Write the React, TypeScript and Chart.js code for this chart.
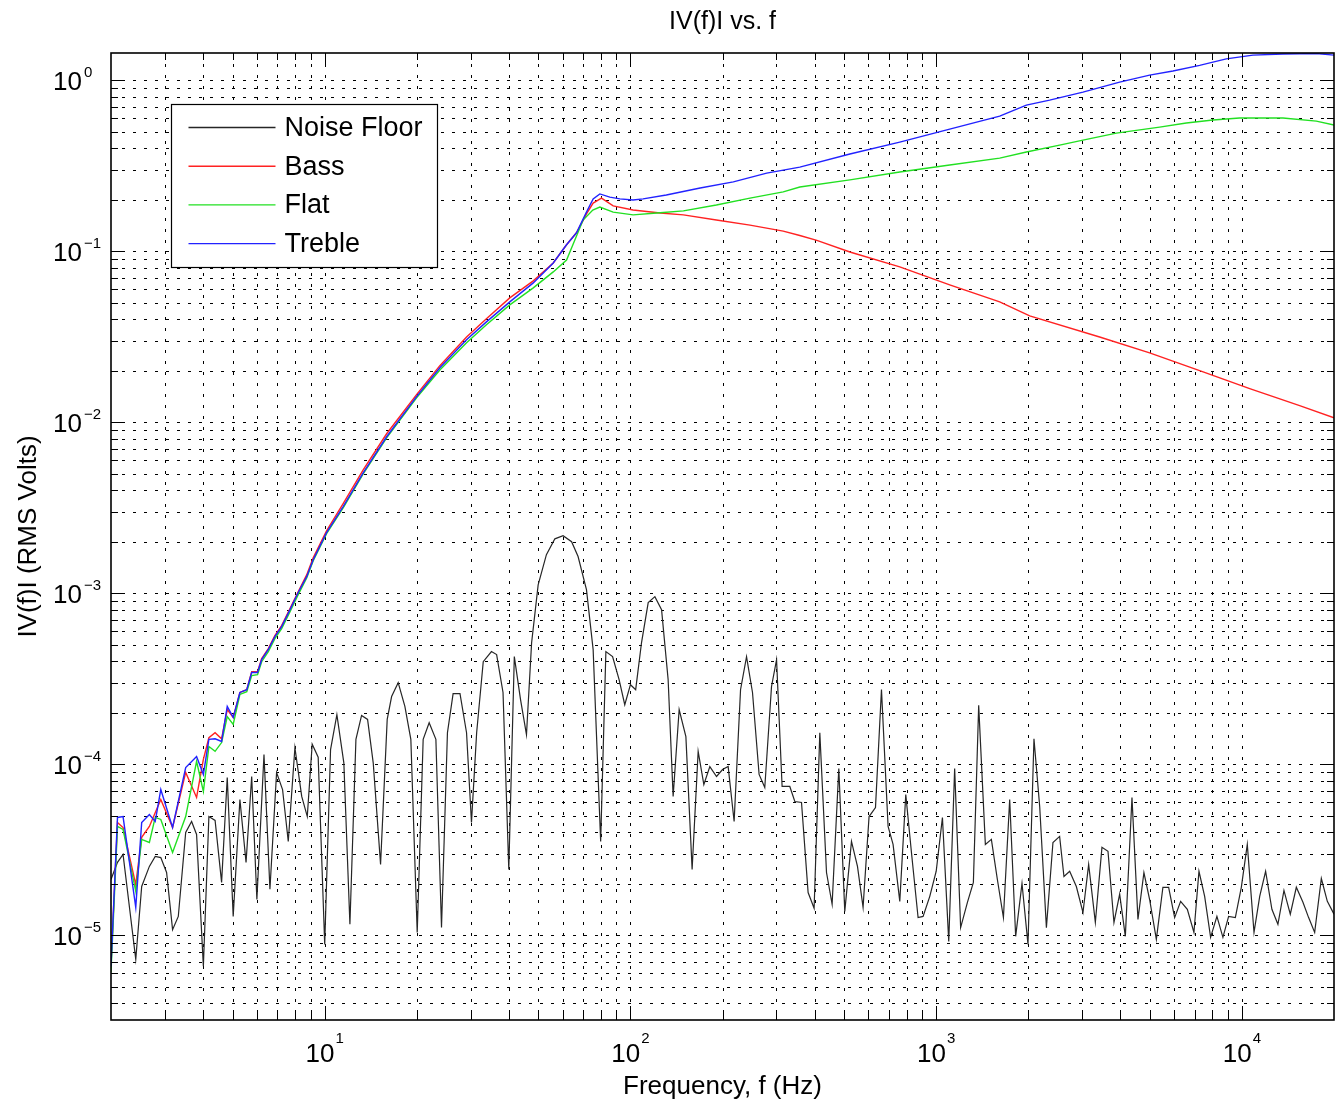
import React, { useEffect, useRef } from 'react';
import { Chart, registerables } from 'chart.js';

Chart.register(...registerables);

// ---- Measured spectra: [frequency (Hz), |V(f)| (RMS volts)] ----
const noiseFloorPoints: [number, number][] = [
  [2.0, 2.12e-5], [2.1, 2.67e-5], [2.19, 2.97e-5], [2.41, 7.24e-6], [2.52, 1.93e-5], [2.67, 2.53e-5], [2.79, 2.89e-5], [2.91, 2.85e-5], [3.04, 2.33e-5], [3.18, 1.08e-5],
  [3.32, 1.29e-5], [3.51, 4.0e-5], [3.67, 4.63e-5], [3.81, 3.89e-5], [4.01, 6.59e-6], [4.18, 4.95e-5], [4.38, 4.7e-5], [4.6, 2.04e-5], [4.8, 8.37e-5], [5.02, 1.29e-5],
  [5.28, 6.23e-5], [5.53, 2.67e-5], [5.77, 8.49e-5], [6.0, 1.62e-5], [6.33, 1.14e-4], [6.62, 1.86e-5], [6.96, 8.96e-5], [7.28, 7.12e-5], [7.6, 3.54e-5], [7.99, 1.25e-4],
  [8.41, 6.49e-5], [8.77, 4.95e-5], [9.1, 1.31e-4], [9.52, 1.1e-4], [10.0, 8.85e-6], [10.45, 1.22e-4], [10.96, 1.95e-4], [11.55, 1.02e-4], [12.09, 1.16e-5], [12.65, 1.4e-4],
  [13.2, 1.93e-4], [13.81, 1.83e-4], [14.41, 1.02e-4], [15.23, 2.6e-5], [16.01, 1.83e-4], [16.55, 2.49e-4], [17.39, 3.0e-4], [18.29, 2.18e-4], [19.13, 1.4e-4], [20.07, 1.04e-5],
  [20.99, 1.4e-4], [21.96, 1.75e-4], [23.1, 1.4e-4], [24.1, 1.11e-5], [25.2, 1.53e-4], [26.3, 2.59e-4], [27.7, 2.59e-4], [29.1, 1.53e-4], [30.2, 4.57e-5], [31.4, 1.53e-4],
  [33.0, 3.98e-4], [35.1, 4.56e-4], [36.5, 4.38e-4], [38.3, 2.63e-4], [40.0, 2.43e-5], [41.7, 4.26e-4], [43.7, 2.39e-4], [45.7, 1.49e-4], [47.5, 5.14e-4], [49.9, 1.12e-3],
  [53.1, 1.68e-3], [56.6, 2.08e-3], [60.2, 2.17e-3], [64.2, 2.0e-3], [67.4, 1.64e-3], [71.8, 1.05e-3], [75.5, 4.68e-4], [79.9, 3.54e-5], [83.1, 4.56e-4], [87.4, 4.26e-4],
  [91.8, 3.13e-4], [95.8, 2.23e-4], [100, 2.92e-4], [104, 2.73e-4], [108.7, 5.15e-4], [114.3, 8.81e-4], [120.2, 9.55e-4], [126.4, 8.02e-4], [132.8, 3.13e-4], [137.9, 6.49e-5],
  [144.3, 2.09e-4], [151.8, 1.45e-4], [159.1, 2.43e-5], [166.5, 1.19e-4], [173.8, 7.62e-5], [181.8, 9.7e-5], [191.2, 8.49e-5], [200.1, 9.32e-5], [208.7, 9.7e-5], [218.3, 4.63e-5],
  [229.1, 2.73e-4], [239.7, 4.26e-4], [250.7, 2.63e-4], [263.5, 8.72e-5], [275.0, 7.32e-5], [289.3, 2.85e-4], [300.5, 4.09e-4], [313.3, 7.42e-5], [332, 7.42e-5], [344.8, 6.06e-5],
  [362.6, 5.98e-5], [381.1, 1.78e-5], [398.7, 1.44e-5], [416.2, 1.53e-4], [437.7, 2.33e-5], [456.6, 1.52e-5], [480.2, 9.45e-5], [502.3, 1.38e-5], [528.3, 3.54e-5], [552.7, 2.53e-5],
  [576.5, 1.46e-5], [603.1, 4.95e-5], [633, 5.59e-5], [662.2, 2.74e-4], [696, 4.33e-5], [722.6, 3.4e-5], [760.1, 1.58e-5], [795.2, 6.66e-5], [829.9, 3.05e-5], [872.4, 1.27e-5],
  [905.8, 1.29e-5], [952.7, 1.69e-5], [1000, 2.37e-5], [1048, 4.89e-5], [1099, 9.22e-6], [1149, 9.45e-5], [1202, 1.11e-5], [1265, 1.56e-5], [1323, 2.04e-5], [1377, 2.21e-4],
  [1448, 3.4e-5], [1515, 3.64e-5], [1585, 2.12e-5], [1659, 1.27e-5], [1739, 6.23e-5], [1819, 9.87e-6], [1908, 2.01e-5], [1996, 8.86e-6], [2088, 1.41e-4], [2180, 5.67e-5],
  [2293, 1.11e-5], [2409, 3.49e-5], [2533, 3.79e-5], [2617, 2.21e-5], [2732, 2.37e-5], [2873, 1.93e-5], [3020, 1.36e-5], [3152, 2.6e-5], [3315, 1.19e-5], [3484, 3.27e-5],
  [3646, 3.1e-5], [3814, 1.19e-5], [3981, 1.74e-5], [4155, 9.87e-6], [4368, 6.4e-5], [4569, 1.24e-5], [4779, 2.33e-5], [4989, 1.62e-5], [5248, 9.48e-6], [5514, 1.91e-5],
  [5757, 1.91e-5], [6024, 1.27e-5], [6301, 1.58e-5], [6627, 1.42e-5], [6965, 1.04e-5], [7234, 2.37e-5], [7551, 1.69e-5], [7897, 9.74e-6], [8281, 1.29e-5], [8664, 9.74e-6],
  [9044, 1.29e-5], [9513, 1.27e-5], [9952, 1.91e-5], [10410, 3.4e-5], [10950, 1.04e-5], [11430, 1.69e-5], [11950, 2.37e-5], [12530, 1.42e-5], [13110, 1.16e-5], [13720, 1.83e-5],
  [14390, 1.33e-5], [15060, 1.91e-5], [15830, 1.56e-5], [16520, 1.27e-5], [17290, 1.04e-5], [18180, 2.15e-5], [19020, 1.58e-5], [20000, 1.33e-5],
];

const bassPoints: [number, number][] = [
  [2.0, 6.77e-6], [2.1, 4.57e-5], [2.19, 4.27e-5], [2.41, 1.98e-5], [2.52, 3.74e-5], [2.67, 4.33e-5], [2.91, 6.23e-5], [3.18, 4.27e-5], [3.51, 8.96e-5], [3.81, 6.4e-5],
  [4.01, 1.07e-4], [4.18, 1.43e-4], [4.38, 1.53e-4], [4.6, 1.41e-4], [4.8, 2.09e-4], [5.02, 1.88e-4], [5.28, 2.63e-4], [5.56, 2.73e-4], [5.77, 3.48e-4], [6.03, 3.48e-4],
  [6.22, 4.15e-4], [6.54, 4.75e-4], [6.87, 5.65e-4], [7.23, 6.47e-4], [7.7, 8.13e-4], [8.19, 1.02e-3], [8.73, 1.28e-3], [9.17, 1.61e-3], [10.14, 2.32e-3], [11.49, 3.34e-3],
  [13.36, 5.27e-3], [15.94, 8.56e-3], [19.97, 1.45e-2], [23.8, 2.14e-2], [29.1, 3.15e-2], [33.8, 4.02e-2], [40.3, 5.33e-2], [48.1, 6.7e-2], [55.9, 8.53e-2], [61.8, 0.109],
  [66.6, 0.128], [71.8, 0.165], [75.5, 0.191], [80.4, 0.204], [87.8, 0.184], [102, 0.174], [125, 0.167], [149, 0.163], [191, 0.152], [246, 0.142],
  [316, 0.131], [358, 0.1235], [407, 0.1155], [522, 9.89e-2], [760, 8.09e-2], [1107, 6.35e-2], [1613, 5.05e-2], [2022, 4.18e-2], [3424, 3.15e-2], [4989, 2.54e-2],
  [7270, 2.0e-2], [10600, 1.57e-2], [15440, 1.25e-2], [20000, 1.06e-2],
];

const flatPoints: [number, number][] = [
  [2.0, 6.08e-6], [2.1, 4.33e-5], [2.19, 4.16e-5], [2.41, 1.81e-5], [2.52, 3.64e-5], [2.67, 3.49e-5], [2.79, 4.89e-5], [2.91, 4.76e-5], [3.18, 3.05e-5], [3.51, 4.95e-5],
  [3.81, 1.04e-4], [4.01, 6.94e-5], [4.18, 1.27e-4], [4.38, 1.19e-4], [4.6, 1.34e-4], [4.8, 1.9e-4], [5.02, 1.71e-4], [5.28, 2.56e-4], [5.56, 2.66e-4], [5.77, 3.3e-4],
  [6.03, 3.34e-4], [6.22, 3.98e-4], [6.54, 4.56e-4], [6.87, 5.43e-4], [7.23, 6.21e-4], [7.7, 7.81e-4], [8.19, 9.81e-4], [8.73, 1.23e-3], [9.17, 1.55e-3], [10.14, 2.23e-3],
  [11.49, 3.16e-3], [13.36, 4.99e-3], [15.94, 8.11e-3], [19.97, 1.39e-2], [23.8, 2.02e-2], [29.1, 2.91e-2], [33.8, 3.71e-2], [40.3, 4.85e-2], [48.1, 6.1e-2], [55.9, 7.56e-2],
  [61.8, 8.88e-2], [70.0, 0.152], [75.3, 0.174], [79.4, 0.181], [87.8, 0.169], [102, 0.163], [122, 0.167], [149, 0.172], [191, 0.186], [246, 0.204],
  [316, 0.222], [358, 0.237], [522, 0.261], [760, 0.29], [1107, 0.319], [1613, 0.35], [1972, 0.38], [2533, 0.417], [3020, 0.446], [3884, 0.49],
  [5380, 0.531], [6577, 0.561], [8035, 0.584], [9824, 0.6], [13620, 0.6], [17510, 0.576], [20000, 0.546],
];

const treblePoints: [number, number][] = [
  [2.0, 6.59e-6], [2.1, 4.89e-5], [2.19, 4.95e-5], [2.41, 1.46e-5], [2.52, 4.57e-5], [2.67, 5.09e-5], [2.79, 4.63e-5], [2.91, 7.12e-5], [3.18, 4.27e-5], [3.51, 9.58e-5],
  [3.81, 1.11e-4], [4.01, 8.72e-5], [4.18, 1.4e-4], [4.38, 1.41e-4], [4.6, 1.36e-4], [4.8, 2.18e-4], [5.02, 1.88e-4], [5.28, 2.63e-4], [5.56, 2.73e-4], [5.77, 3.44e-4],
  [6.03, 3.44e-4], [6.22, 4.09e-4], [6.54, 4.69e-4], [6.87, 5.58e-4], [7.23, 6.38e-4], [7.7, 8.02e-4], [8.19, 1.01e-3], [8.73, 1.25e-3], [9.17, 1.57e-3], [10.14, 2.26e-3],
  [11.49, 3.21e-3], [13.36, 5.06e-3], [15.94, 8.22e-3], [19.97, 1.41e-2], [23.8, 2.08e-2], [29.1, 3.03e-2], [33.8, 3.86e-2], [40.3, 5.05e-2], [48.1, 6.52e-2], [55.9, 8.53e-2],
  [61.8, 0.109], [66.6, 0.128], [71.8, 0.169], [75.5, 0.202], [79.4, 0.216], [85.6, 0.207], [92.3, 0.202], [102, 0.199], [110, 0.202], [131, 0.213],
  [169, 0.234], [217, 0.254], [279, 0.286], [358, 0.31], [522, 0.37], [760, 0.434], [1107, 0.517], [1613, 0.615], [1972, 0.714], [2350, 0.764],
  [3020, 0.851], [3981, 0.973], [4989, 1.07], [5947, 1.13], [7270, 1.22], [8887, 1.33], [10860, 1.4], [13620, 1.42], [17510, 1.43], [20000, 1.4],
];

// ---- Axes ----
const xRange = [2, 20000];
const yRange = [3.2e-6, 1.44];
const gridMultipliers = [1, 2, 3, 4, 5, 6, 7, 8, 9];
const xGridDecades = [0, 1, 2, 3, 4];
const yGridDecades = [-6, -5, -4, -3, -2, -1, 0];
const xTickValues = [10, 100, 1000, 10000];
const xTickExponents = ['1', '2', '3', '4'];
const yTickValues = [1, 0.1, 0.01, 0.001, 0.0001, 0.00001];
const yTickExponents = ['0', '\u22121', '\u22122', '\u22123', '\u22124', '\u22125'];

const titleText = 'IV(f)I vs. f';
const xTitleText = 'Frequency, f (Hz)';
const yTitleText = 'IV(f)I (RMS Volts)';

const FONT = '"Liberation Sans", Arial, Helvetica, sans-serif';

const series = [
  { label: 'Noise Floor', points: noiseFloorPoints, color: '#262626', width: 1.2, order: 3 },
  { label: 'Bass', points: bassPoints, color: '#ff2222', width: 1.4, order: 2 },
  { label: 'Flat', points: flatPoints, color: '#22e022', width: 1.4, order: 1 },
  { label: 'Treble', points: treblePoints, color: '#2222ff', width: 1.4, order: 0 },
];

// MATLAB-style axes: dotted grid at every decade subdivision, inward ticks,
// superscript tick labels, boxed legend.
const matlabAxes = {
  id: 'matlabAxes',
  beforeDraw(chart: any) {
    const ctx = chart.ctx;
    ctx.save();
    ctx.fillStyle = '#ffffff';
    ctx.fillRect(0, 0, chart.width, chart.height);
    ctx.restore();
  },
  beforeDatasetsDraw(chart: any) {
    const { ctx, chartArea: a, scales } = chart;
    const xs = scales.x;
    const ys = scales.y;
    ctx.save();
    ctx.strokeStyle = '#000';
    ctx.lineWidth = 1;
    ctx.setLineDash([3, 8]);
    for (const e of xGridDecades) {
      for (const m of gridMultipliers) {
        const v = m * Math.pow(10, e);
        if (v <= xRange[0] * 1.001 || v >= xRange[1] * 0.999) continue;
        const px = Math.round(xs.getPixelForValue(v)) + 0.5;
        ctx.beginPath();
        ctx.moveTo(px, a.top);
        ctx.lineTo(px, a.bottom);
        ctx.stroke();
      }
    }
    for (const e of yGridDecades) {
      for (const m of gridMultipliers) {
        const v = m * Math.pow(10, e);
        if (v <= yRange[0] * 1.001 || v >= yRange[1] * 0.999) continue;
        const py = Math.round(ys.getPixelForValue(v)) + 0.5;
        ctx.beginPath();
        ctx.moveTo(a.left, py);
        ctx.lineTo(a.right, py);
        ctx.stroke();
      }
    }
    ctx.restore();
  },
  afterDatasetsDraw(chart: any) {
    const { ctx, chartArea: a, scales } = chart;
    const xs = scales.x;
    const ys = scales.y;
    ctx.save();
    ctx.setLineDash([]);
    ctx.strokeStyle = '#000';

    // inward ticks on all four sides
    ctx.lineWidth = 1;
    for (const e of xGridDecades) {
      for (const m of gridMultipliers) {
        const v = m * Math.pow(10, e);
        if (v <= xRange[0] * 1.001 || v >= xRange[1] * 0.999) continue;
        const len = m === 1 ? 14 : 7;
        const px = Math.round(xs.getPixelForValue(v)) + 0.5;
        ctx.beginPath();
        ctx.moveTo(px, a.bottom);
        ctx.lineTo(px, a.bottom - len);
        ctx.moveTo(px, a.top);
        ctx.lineTo(px, a.top + len);
        ctx.stroke();
      }
    }
    for (const e of yGridDecades) {
      for (const m of gridMultipliers) {
        const v = m * Math.pow(10, e);
        if (v <= yRange[0] * 1.001 || v >= yRange[1] * 0.999) continue;
        const len = m === 1 ? 14 : 7;
        const py = Math.round(ys.getPixelForValue(v)) + 0.5;
        ctx.beginPath();
        ctx.moveTo(a.left, py);
        ctx.lineTo(a.left + len, py);
        ctx.moveTo(a.right, py);
        ctx.lineTo(a.right - len, py);
        ctx.stroke();
      }
    }

    // frame
    ctx.lineWidth = 1.6;
    ctx.strokeRect(a.left, a.top, a.right - a.left, a.bottom - a.top);

    // tick labels
    ctx.fillStyle = '#000';
    ctx.textBaseline = 'alphabetic';
    yTickValues.forEach((v, i) => {
      const py = ys.getPixelForValue(v);
      ctx.font = `26px ${FONT}`;
      ctx.textAlign = 'right';
      ctx.fillText('10', a.left - 29, py + 10);
      ctx.font = `15px ${FONT}`;
      ctx.textAlign = 'left';
      ctx.fillText(yTickExponents[i], a.left - 27, py - 3);
    });
    xTickValues.forEach((v, i) => {
      const px = xs.getPixelForValue(v);
      ctx.font = `26px ${FONT}`;
      const w1 = ctx.measureText('10').width;
      ctx.font = `15px ${FONT}`;
      const w2 = ctx.measureText(xTickExponents[i]).width;
      const start = px - (w1 + 1 + w2) / 2;
      ctx.textAlign = 'left';
      ctx.font = `26px ${FONT}`;
      ctx.fillText('10', start, a.bottom + 42);
      ctx.font = `15px ${FONT}`;
      ctx.fillText(xTickExponents[i], start + w1 + 1, a.bottom + 23);
    });

    // titles
    const cx = (a.left + a.right) / 2;
    ctx.textAlign = 'center';
    ctx.font = `25px ${FONT}`;
    ctx.fillText(titleText, cx, 29);
    ctx.font = `26px ${FONT}`;
    ctx.fillText(xTitleText, cx, a.bottom + 74);
    ctx.save();
    ctx.translate(29, (a.top + a.bottom) / 2);
    ctx.rotate(-Math.PI / 2);
    ctx.textBaseline = 'middle';
    ctx.fillText(yTitleText, 0, 0);
    ctx.restore();

    // legend
    const lx = a.left + 60.5;
    const ly = a.top + 51.5;
    const lw = 266;
    const lh = 163;
    ctx.fillStyle = '#fff';
    ctx.fillRect(lx, ly, lw, lh);
    ctx.lineWidth = 1.2;
    ctx.strokeStyle = '#000';
    ctx.strokeRect(lx, ly, lw, lh);
    chart.data.datasets.forEach((ds: any, i: number) => {
      const y = ly + 23 + i * 38.7;
      ctx.strokeStyle = ds.borderColor;
      ctx.lineWidth = 1.4;
      ctx.beginPath();
      ctx.moveTo(lx + 17, y);
      ctx.lineTo(lx + 104, y);
      ctx.stroke();
      ctx.fillStyle = '#000';
      ctx.font = `27px ${FONT}`;
      ctx.textAlign = 'left';
      ctx.textBaseline = 'middle';
      ctx.fillText(ds.label, lx + 113, y + 1);
    });
    ctx.restore();
  },
};

export default function App() {
  const canvasRef = useRef<HTMLCanvasElement | null>(null);

  useEffect(() => {
    const canvas = canvasRef.current;
    if (!canvas) return;
    const chart = new Chart(canvas, {
      type: 'line',
      data: {
        datasets: series.map((s) => ({
          label: s.label,
          data: s.points.map(([f, v]) => ({ x: f, y: v })),
          borderColor: s.color,
          backgroundColor: s.color,
          borderWidth: s.width,
          pointRadius: 0,
          tension: 0,
          fill: false,
          order: s.order,
        })),
      },
      options: {
        animation: false,
        responsive: false,
        devicePixelRatio: 1,
        layout: { padding: { left: 111, top: 53, right: 7, bottom: 86 } },
        plugins: {
          legend: { display: false },
          tooltip: { enabled: false },
          title: { display: false },
        },
        scales: {
          x: {
            type: 'logarithmic',
            min: xRange[0],
            max: xRange[1],
            ticks: { display: false },
            grid: { display: false },
            border: { display: false },
            afterFit: (s: any) => {
              s.height = 0;
            },
          },
          y: {
            type: 'logarithmic',
            min: yRange[0],
            max: yRange[1],
            ticks: { display: false },
            grid: { display: false },
            border: { display: false },
            afterFit: (s: any) => {
              s.width = 0;
            },
          },
        },
      } as any,
      plugins: [matlabAxes],
    });
    return () => chart.destroy();
  }, []);

  return (
    <div style={{ position: 'absolute', left: 0, top: 0, width: 1341, height: 1106, background: '#fff' }}>
      <canvas ref={canvasRef} width={1341} height={1106} />
    </div>
  );
}
